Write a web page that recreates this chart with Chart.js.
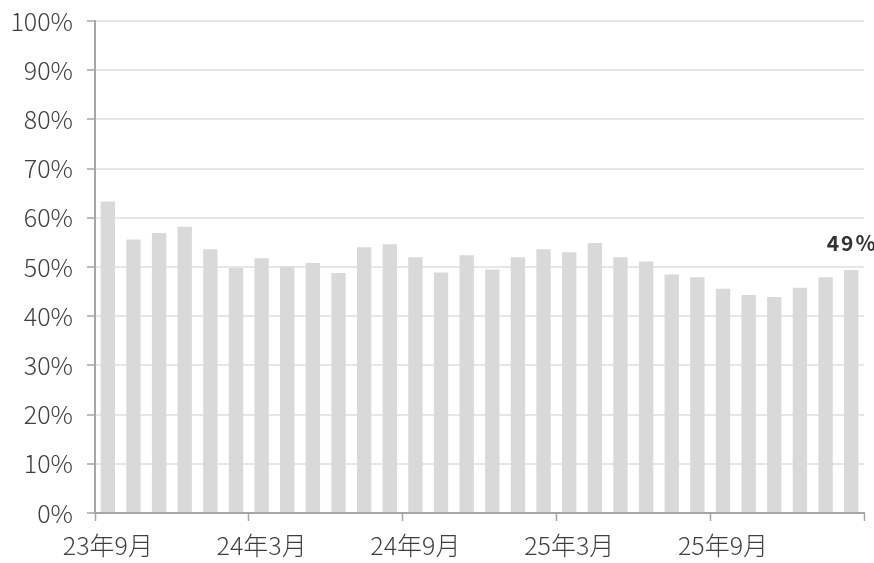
<!DOCTYPE html>
<html>
<head>
<meta charset="utf-8">
<script src="https://cdn.jsdelivr.net/npm/chart.js@4/dist/chart.umd.min.js"></script>
<style>
  html, body { margin: 0; padding: 0; background: #ffffff; }
  #wrap { width: 874px; height: 563px; position: relative; }
</style>
</head>
<body>
<div id="wrap"><canvas id="chart" width="874" height="563"></canvas></div>
<script>
// Monthly share, Sep 2023 – Feb 2026
const categories = [
  "23年9月", "23年10月", "23年11月", "23年12月", "24年1月", "24年2月",
  "24年3月", "24年4月", "24年5月", "24年6月", "24年7月", "24年8月",
  "24年9月", "24年10月", "24年11月", "24年12月", "25年1月", "25年2月",
  "25年3月", "25年4月", "25年5月", "25年6月", "25年7月", "25年8月",
  "25年9月", "25年10月", "25年11月", "25年12月", "26年1月", "26年2月"
];
const shareValues = [
  63.3, 55.6, 56.9, 58.2, 53.6, 49.8,
  51.8, 50.1, 50.8, 48.8, 54.0, 54.6,
  52.0, 48.9, 52.4, 49.5, 52.0, 53.6,
  53.0, 54.9, 52.0, 51.1, 48.5, 47.9,
  45.6, 44.3, 43.9, 45.8, 47.9, 49.4
];
const yTicks = [0, 10, 20, 30, 40, 50, 60, 70, 80, 90, 100];
const labelEvery = 6;

const axisGray = '#a6a6a6';
const gridGray = '#e6e6e6';
const textGray = '#404040';
const tickFont = { family: "'Noto Sans CJK JP', 'Noto Sans', sans-serif", size: 25, weight: 300 };

// Value label on the most recent bar
const lastValueLabel = {
  id: 'lastValueLabel',
  afterDatasetsDraw(chart) {
    const meta = chart.getDatasetMeta(0);
    const i = shareValues.length - 1;
    const bar = meta.data[i];
    const ctx = chart.ctx;
    ctx.save();
    ctx.font = "bold 21px 'Noto Sans CJK JP', 'Noto Sans', sans-serif";
    if ('letterSpacing' in ctx) ctx.letterSpacing = '2px';
    ctx.fillStyle = '#333333';
    ctx.textAlign = 'center';
    ctx.textBaseline = 'middle';
    ctx.fillText(Math.round(shareValues[i]) + '%', bar.x + 1, bar.y - 27);
    ctx.restore();
  }
};

new Chart(document.getElementById('chart'), {
  type: 'bar',
  data: {
    labels: categories,
    datasets: [{
      data: shareValues,
      backgroundColor: '#d9d9d9',
      borderWidth: 0,
      categoryPercentage: 1,
      barPercentage: 0.56
    }]
  },
  options: {
    responsive: false,
    animation: false,
    devicePixelRatio: 1,
    layout: { padding: { top: 21, right: 10, left: 0, bottom: 0 } },
    plugins: {
      legend: { display: false },
      tooltip: { enabled: false }
    },
    scales: {
      x: {
        offset: true,
        afterFit(scale) { scale.height = 50; scale.paddingLeft = 0; scale.paddingRight = 0; },
        grid: {
          offset: true,
          drawOnChartArea: false,
          drawTicks: true,
          tickLength: 8,
          tickWidth: 1.5,
          tickColor(ctx) {
            if (ctx.index === undefined || ctx.index % labelEvery === 0) return axisGray;
            return 'rgba(0,0,0,0)';
          }
        },
        border: { display: true, color: axisGray, width: 2 },
        ticks: {
          autoSkip: false,
          maxRotation: 0,
          minRotation: 0,
          padding: 9,
          color: textGray,
          font: tickFont,
          callback(value, index) {
            return index % labelEvery === 0 ? categories[index] : '';
          }
        }
      },
      y: {
        min: yTicks[0],
        max: yTicks[yTicks.length - 1],
        afterFit(scale) { scale.width = 95; scale.paddingTop = 0; scale.paddingBottom = 0; },
        afterBuildTicks(scale) { scale.ticks = yTicks.map(v => ({ value: v })); },
        grid: {
          color: gridGray,
          lineWidth: 2,
          drawTicks: true,
          tickLength: 8,
          tickWidth: 1.5,
          tickColor: axisGray
        },
        border: { display: true, color: axisGray, width: 2 },
        ticks: {
          padding: 14,
          color: textGray,
          font: tickFont,
          callback(value) { return value + '%'; }
        }
      }
    }
  },
  plugins: [lastValueLabel]
});
</script>
</body>
</html>
